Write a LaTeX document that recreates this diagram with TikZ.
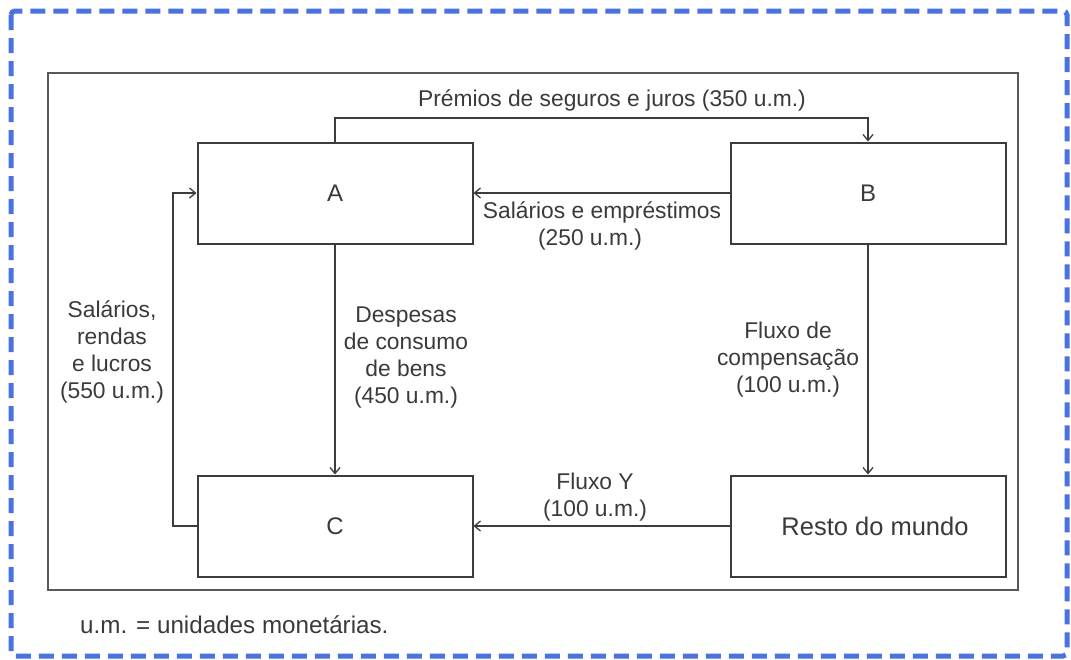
\documentclass[tikz,border=0pt]{standalone}
\usepackage{fontspec}
\setmainfont{Liberation Sans}
\usetikzlibrary{arrows.meta}
\definecolor{borderblue}{HTML}{4A72E0}
\definecolor{linegray}{HTML}{3C3C3C}
\definecolor{textgray}{HTML}{3A3A3A}
\begin{document}
\begin{tikzpicture}[x=1pt,y=-1pt,
  box/.style={draw=linegray,line width=2pt,rectangle,inner sep=0pt,
    minimum width=275pt,minimum height=101pt,text=textgray,
    font=\fontsize{24}{28}\selectfont},
  lbl/.style={text=textgray,align=center,inner sep=0pt,
    font=\fontsize{22.8}{27}\selectfont},
  conn/.style={draw=linegray,line width=1.5pt,
    -{Straight Barb[length=6pt,width=10pt,line width=1.3pt]}}]
\useasboundingbox (0,0) rectangle (1071,659);
% outer dashed border
\draw[borderblue,line width=5pt,dash pattern=on 15pt off 8pt,rounded corners=4pt]
  (11,11) rectangle (1067,656);
% inner frame
\draw[draw=linegray!85,line width=2pt] (48,73) rectangle (1018,590);
% boxes
\node[box] (A) at (335,193) {A};
\node[box] (B) at (868,193) {B};
\node[box] (C) at (335,526) {C};
\node[box,font=\fontsize{25.5}{30}\selectfont] (R) at (868,526) {\hspace*{14pt}Resto do mundo};
% helper coordinates
\coordinate (ttop) at (600,118);
\coordinate (cleft) at (173,526);
% connectors
\draw[conn] (A.north) |- (ttop) -| (B.north);
\draw[conn] (B.west) -- (A.east);
\draw[conn] (A.south) -- (C.north);
\draw[conn] (B.south) -- (R.north);
\draw[conn] (R.west) -- (C.east);
\draw[conn] (C.west) -- (cleft) |- (A.west);
% labels
\node[lbl] (lp) at (612,100) {Prémios de seguros e juros (350 u.m.)};
\node[lbl] (ls) at (602,226) {Salários e empréstimos\\\hspace*{-24pt}(250 u.m.)};
\node[lbl] (ld) at (406,358) {Despesas\\de consumo\\de bens\\(450 u.m.)};
\node[lbl] (lf) at (788,360) {Fluxo de\\compensação\\(100 u.m.)};
\node[lbl] (ly) at (595,497) {Fluxo Y\\(100 u.m.)};
\node[lbl] (lr) at (112,352) {Salários,\\rendas\\e lucros\\(550 u.m.)};
\node[lbl,anchor=west,font=\fontsize{24.2}{29}\selectfont] (lu) at (80,625) {u.m. = unidades monetárias.};
\end{tikzpicture}
\end{document}
